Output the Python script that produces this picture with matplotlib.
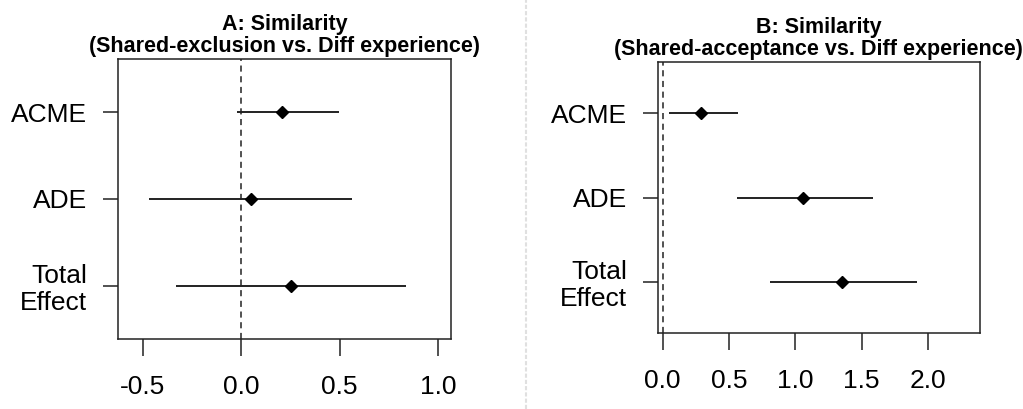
import numpy as np
import matplotlib
matplotlib.use("Agg")
import matplotlib.pyplot as plt
from matplotlib.lines import Line2D

plt.rcParams["font.family"] = ["Liberation Sans", "DejaVu Sans"]

effects = ["ACME", "ADE", "Total\nEffect"]

# panel A: shared-exclusion vs diff experience
est_a = [0.205, 0.048, 0.253]
lo_a = [-0.020, -0.471, -0.332]
hi_a = [0.498, 0.563, 0.838]
ticks_a = [-0.5, 0.0, 0.5, 1.0]

# panel B: shared-acceptance vs diff experience
est_b = [0.287, 1.057, 1.353]
lo_b = [0.045, 0.563, 0.812]
hi_b = [0.568, 1.587, 1.919]
ticks_b = [0.0, 0.5, 1.0, 1.5, 2.0]

W, H = 1023, 409
fig = plt.figure(figsize=(W / 100, H / 100), dpi=100)
ink = "#222222"


def px_axes(x0, y0, x1, y1):
    return fig.add_axes([x0 / W, 1 - y1 / H, (x1 - x0) / W, (y1 - y0) / H])


def forest(ax, est, lo, hi, ticks, xlim, title):
    y = np.arange(len(est), 0, -1)
    ax.axvline(0, color=ink, lw=1.1, ls=(0, (4, 3)), zorder=1)
    ax.hlines(y, lo, hi, color=ink, lw=1.4, zorder=2)
    ax.plot(est, y, "D", color="black", ms=6, zorder=3)
    ax.set_xlim(*xlim)
    ax.set_ylim(0.39, 3.61)
    ax.set_yticks(y)
    ax.set_yticklabels(effects, fontsize=19, linespacing=1.15)
    ax.set_xticks(ticks)
    ax.set_xticklabels([f"{t:.1f}" for t in ticks], fontsize=19)
    ax.tick_params(axis="y", length=11, width=1.1, pad=11, color=ink)
    ax.tick_params(axis="x", length=12, width=1.1, pad=14, color=ink)
    for s in ax.spines.values():
        s.set_linewidth(1.1)
        s.set_color(ink)
    ax.set_title(title, fontsize=15.5, fontweight="bold", pad=5, linespacing=1.05)


ax1 = px_axes(118, 59, 451, 339)
forest(ax1, est_a, lo_a, hi_a, ticks_a, (-0.627, 1.067),
       "A: Similarity\n(Shared-exclusion vs. Diff experience)")

ax2 = px_axes(657.7, 61.7, 979.7, 333.3)
forest(ax2, est_b, lo_b, hi_b, ticks_b, (-0.038, 2.392),
       "B: Similarity\n(Shared-acceptance vs. Diff experience)")

# light dotted divider between the panels
fig.add_artist(Line2D([525.7 / W, 525.7 / W], [0, 1], transform=fig.transFigure,
                      color="#e0e0e0", lw=1.5, ls=(0, (2, 1))))

fig.savefig("out.png", dpi=100)
